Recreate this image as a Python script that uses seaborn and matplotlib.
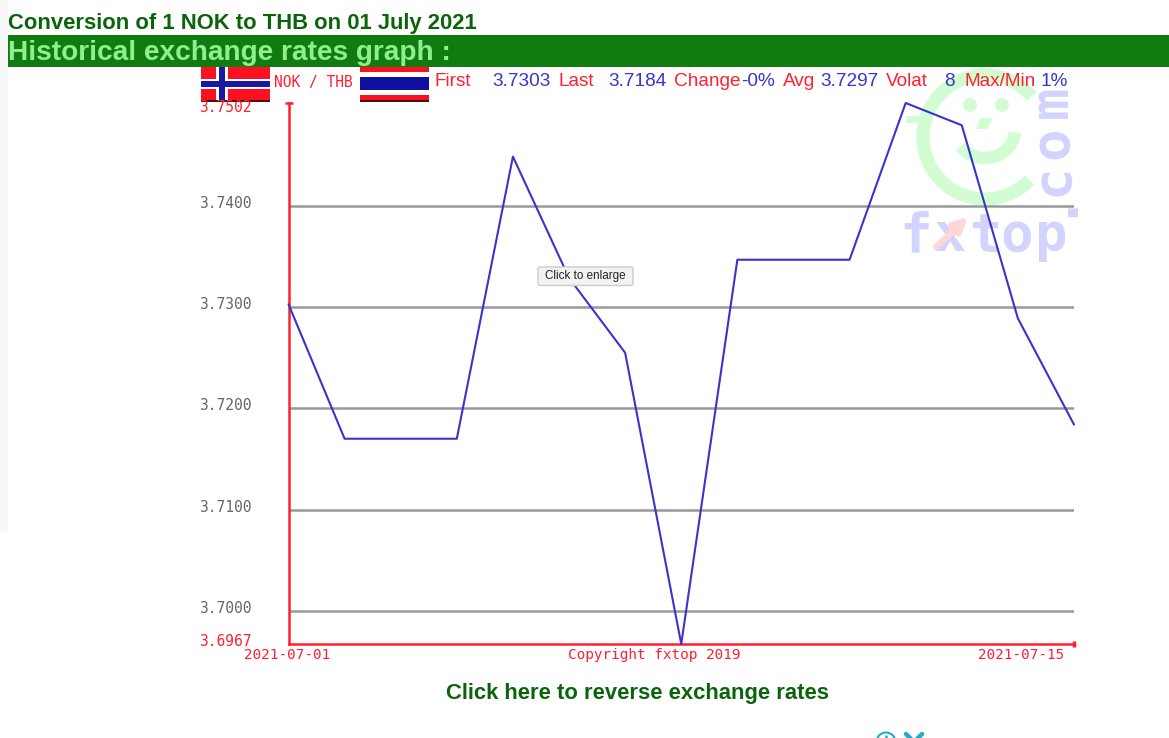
import matplotlib
matplotlib.use('Agg')
import matplotlib.pyplot as plt
import pandas as pd
import seaborn as sns
from matplotlib.patches import Rectangle, FancyBboxPatch, Arc, Circle, Polygon, FancyArrowPatch

# values
days = list(range(15))
rates = [3.7303, 3.7170, 3.7170, 3.7170, 3.7449, 3.7329, 3.7255, 3.6967,
         3.7347, 3.7347, 3.7347, 3.7502, 3.7480, 3.7289, 3.7184]
grid_values = [3.70, 3.71, 3.72, 3.73, 3.74]
grid_labels = ['3.7000', '3.7100', '3.7200', '3.7300', '3.7400']
y_min, y_max = 3.6967, 3.7502
y_min_label, y_max_label = '3.6967', '3.7502'
first_date, last_date = '2021-07-01', '2021-07-15'

W, H = 1169, 738
RED = '#ff2030'
BLUE = '#3c32cc'
GRAY = '#999999'
GREEN_TXT = '#0b640b'
sans = ['Liberation Sans', 'DejaVu Sans']
mono = 'DejaVu Sans Mono'

sns.set_theme(style='white')
plt.rcParams['font.family'] = sans

df = pd.DataFrame({'day': days, 'rate': rates})

fig = plt.figure(figsize=(W / 100, H / 100), dpi=100, facecolor='white')

# ── page layer in pixel coordinates ──
page = fig.add_axes([0, 0, 1, 1], zorder=0)
page.set_xlim(0, W)
page.set_ylim(H, 0)
page.axis('off')

page.add_patch(Rectangle((0, 0), 8, 533, color='#f8f8f8', lw=0))
page.add_patch(Rectangle((8, 35), W - 8, 32, color='#107c10', lw=0))
page.text(8, 24, 'Conversion of 1 NOK to THB on 01 July 2021', fontsize=15.8,
          fontweight='bold', color=GREEN_TXT, va='center')
page.text(8, 53, 'Historical exchange rates graph :', fontsize=20.2,
          fontweight='bold', color='#90ee90', va='center')
page.text(637, 693, 'Click here to reverse exchange rates', fontsize=15.8,
          fontweight='bold', color=GREEN_TXT, ha='center', va='center')

# Norway flag
page.add_patch(Rectangle((201, 67), 69, 35, color='#ff1020', lw=0))
page.add_patch(Rectangle((201, 79), 69, 9.5, color='white', lw=0))
page.add_patch(Rectangle((216, 67), 12, 35, color='white', lw=0))
page.add_patch(Rectangle((201, 81), 69, 5.5, color='#1a1aa0', lw=0))
page.add_patch(Rectangle((219, 67), 6, 35, color='#1a1aa0', lw=0))
page.add_patch(Rectangle((201, 100), 69, 2, color='#501010', lw=0))

# Thailand flag
page.add_patch(Rectangle((360, 67), 69, 35, color='white', lw=0))
page.add_patch(Rectangle((360, 67), 69, 5, color='#ff1020', lw=0))
page.add_patch(Rectangle((360, 77), 69, 13, color='#1010a0', lw=0))
page.add_patch(Rectangle((360, 95), 69, 5, color='#ff1020', lw=0))
page.add_patch(Rectangle((360, 100), 69, 2, color='#501010', lw=0))

page.text(274, 82, 'NOK / THB', fontsize=10.5, family=mono, color=RED, va='center')

# header stats, alternating red and blue
header = [(435, 'First', RED), (492, '3.7303', BLUE), (559, 'Last', RED),
          (608, '3.7184', BLUE), (674, 'Change', RED), (741, '-0%', BLUE),
          (783, 'Avg', RED), (820, '3.7297', BLUE), (886, 'Volat', RED),
          (944, '8', BLUE), (964, 'Max/Min', RED), (1040, '1%', BLUE)]
for hx, label, col in header:
    page.text(hx, 81.5, label, fontsize=13.7, color=col, va='center', zorder=5)

# watermark
wm_green = '#d2fdd2'
wm_blue = '#d2d4ff'
wm_font = {'family': mono, 'fontweight': 'bold', 'fontsize': 39, 'color': wm_blue}
page.add_patch(Arc((985, 137), 124, 124, theta1=44, theta2=319, color=wm_green, lw=9.5))
page.add_patch(Arc((985, 130), 60, 56, theta1=5, theta2=146, color=wm_green, lw=9))
page.add_patch(Rectangle((906, 116), 24, 7, color=wm_green, lw=0))
page.add_patch(Circle((970, 105), 7, color=wm_green, lw=0))
page.add_patch(Circle((1002, 105), 7, color=wm_green, lw=0))
page.add_patch(Polygon([(980, 118), (993, 118), (987, 129), (976, 129)], color=wm_green, lw=0))
for lx, letter in [(916, 'f'), (950, 'x'), (985, 't'), (1017, 'o'), (1051, 'p')]:
    page.text(lx, 251, letter, ha='center', va='baseline', **wm_font)
page.add_patch(FancyArrowPatch((936, 247), (968, 217), arrowstyle='-|>', mutation_scale=20,
                               color='#ffd6d6', lw=4.5, shrinkA=0, shrinkB=0, zorder=4))
for ly, letter in [(201, '.'), (180, 'c'), (143, 'o'), (102, 'm')]:
    page.text(1067, ly, letter, ha='center', va='baseline', rotation=90,
              rotation_mode='anchor', **wm_font)

# ── chart axes, positioned to the pixel box of the plot ──
left, right, top, bottom = 288.5, 1074, 103, 644
ax = fig.add_axes([left / W, 1 - bottom / H, (right - left) / W, (bottom - top) / H], zorder=2)
ax.patch.set_alpha(0)
for val in grid_values:
    ax.axhline(val, color=GRAY, lw=1.8, zorder=1)
sns.lineplot(data=df, x='day', y='rate', color=BLUE, lw=1.5, ax=ax, zorder=3, clip_on=False)
ax.set_xlim(days[0], days[-1])
ax.set_ylim(y_min, y_max)
ax.set_xlabel('')
ax.set_ylabel('')
ax.set_xticks([])
ax.set_yticks([])
for side in ['top', 'right']:
    ax.spines[side].set_visible(False)
for side in ['left', 'bottom']:
    ax.spines[side].set_color(RED)
    ax.spines[side].set_linewidth(1.8)

# end caps of the two red axes
ax.plot([days[0]], [y_max], marker='_', ms=6, mew=1.8, color=RED, clip_on=False)
ax.plot([days[-1]], [y_min], marker='|', ms=5, mew=2.5, color=RED, clip_on=False)

# y labels sit a little off their gridlines in the original
def y_label(val, text, col, dy):
    ax.annotate(text, xy=(0, val), xycoords=('axes fraction', 'data'),
                xytext=(-36.5, dy), textcoords='offset pixels', ha='right', va='center',
                family=mono, fontsize=10.5, color=col, annotation_clip=False)

for val, text in zip(grid_values, grid_labels):
    y_label(val, text, '#666666', 2.5)
y_label(y_max, y_max_label, RED, -5)
y_label(y_min, y_min_label, RED, 2.5)

# ── top layer for labels under the axis and the button ──
over = fig.add_axes([0, 0, 1, 1], zorder=4)
over.set_xlim(0, W)
over.set_ylim(H, 0)
over.axis('off')
over.text(287, 655, first_date, fontsize=10.3, family=mono, color=RED, ha='center', va='center')
over.text(654.5, 655, 'Copyright fxtop 2019', fontsize=10.4, family=mono, color=RED, ha='center', va='center')
over.text(1021, 655, last_date, fontsize=10.3, family=mono, color=RED, ha='center', va='center')
over.add_patch(FancyBboxPatch((538, 267), 95, 18.5, boxstyle='round,pad=0,rounding_size=2',
                              fc='#f2f2f2', ec='#cccccc', lw=1))
over.text(585, 276.5, 'Click to enlarge', fontsize=8.4, color='#222222', ha='center', va='center')

# cut off page icons at the bottom edge
over.add_patch(Circle((886, 742), 9.5, fc='none', ec='#2aa8c8', lw=1.5))
over.plot([886, 886], [736, 738], color='#2aa8c8', lw=1.8)
over.plot([906, 922], [734, 750], color='#2aa8c8', lw=3.2)
over.plot([922, 906], [734, 750], color='#2aa8c8', lw=3.2)
over.set_xlim(0, W)
over.set_ylim(H, 0)

fig.savefig('out.png', dpi=100)
